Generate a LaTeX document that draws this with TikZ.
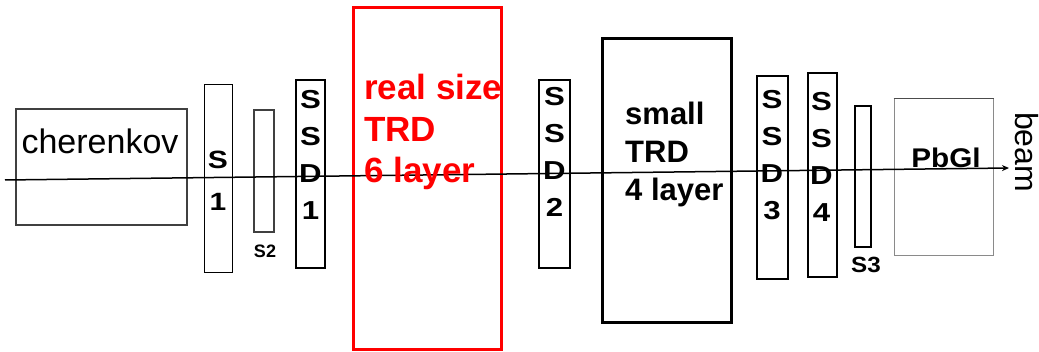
\documentclass[tikz,border=0pt]{standalone}
\usepackage{fontspec}
\setmainfont{Liberation Sans}
\newfontfamily\widesans{Liberation Sans}[FakeStretch=1.2]
\newfontfamily\midsans{Liberation Sans}[FakeStretch=1.1]
\usetikzlibrary{arrows.meta}
\definecolor{boxgray}{HTML}{404040}
\definecolor{pbgray}{HTML}{8A8A8A}
\definecolor{trdred}{HTML}{FF0000}
\begin{document}
\begin{tikzpicture}[x=1pt,y=-1pt,
  det/.style={draw=black, line width=1.4pt, inner sep=0pt, minimum width=#1},
  dh/.style={minimum height=#1},
  ssdtext/.style={inner sep=0pt, anchor=north, align=center, font=\widesans\bfseries\fontsize{26}{37}\selectfont},
  beamline/.style={line width=1.5pt, -{Stealth[length=7pt,width=6pt]}}
]
\useasboundingbox (0,0) rectangle (1039,352);
\fill[white] (0,0) rectangle (1039,352);

% detector boxes
\node[det=171pt, dh=116pt, draw=boxgray, line width=2.6pt] (cher) at (101.5,167) {};
\node[det=28pt, dh=188pt, line width=1pt] (s1) at (218,179) {};
\node[det=20pt, dh=122pt, draw=boxgray, line width=2.2pt] (s2) at (264,171) {};
\node[det=29pt, dh=188pt] (ssd1) at (310.5,174) {};
\node[det=148pt, dh=342pt, draw=trdred, line width=3pt] (rtrd) at (427,179) {};
\node[det=31pt, dh=188pt] (ssd2) at (554.5,174) {};
\node[det=129pt, dh=284pt, line width=3pt] (strd) at (666.5,181) {};
\node[det=31pt, dh=203pt] (ssd3) at (772.5,177.5) {};
\node[det=29pt, dh=204pt] (ssd4) at (822.5,175) {};
\node[det=16pt, dh=141pt] (s3) at (863,176.5) {};
\node[det=99pt, dh=157pt, draw=pbgray, line width=1pt] (pbgl) at (943.5,177.5) {};
\draw[line width=1pt, black!70] (pbgl.north west) -- (pbgl.north east);

% beam
\coordinate (bstart) at (5,180);
\coordinate (bend) at (1009,168);
\draw[beamline] (bstart) -- (bend);

% texts
\node[inner sep=0pt, anchor=base, font=\fontsize{34}{40}\selectfont] (chert) at (100,154) {cherenkov};
\node[ssdtext, font=\widesans\bfseries\fontsize{25}{42}\selectfont] (s1t) at (218,151) {S\\1};
\node[inner sep=0pt, font=\bfseries\fontsize{18}{20}\selectfont] (s2t) at (265,251) {S2};
\node[ssdtext] (ssd1t) at (310.5,90) {S\\S\\D\\1};
\node[inner sep=0pt, anchor=north west, align=left, text=trdred, font=\bfseries\fontsize{35}{41.5}\selectfont] (rtrdt) at (364,74) {real size\\TRD\\6 layer};
\node[ssdtext] (ssd2t) at (554.5,87) {S\\S\\D\\2};
\node[inner sep=0pt, anchor=north west, align=left, font=\bfseries\fontsize{31}{38}\selectfont] (strdt) at (625,102) {small\\TRD\\4 layer};
\node[ssdtext] (ssd3t) at (772,90) {S\\S\\D\\3};
\node[ssdtext] (ssd4t) at (821.5,92) {S\\S\\D\\4};
\node[inner sep=0pt, font=\midsans\bfseries\fontsize{22}{24}\selectfont] (s3t) at (866,265) {S3};
\node[inner sep=0pt, anchor=base, font=\midsans\bfseries\fontsize{27}{30}\selectfont] (pbglt) at (946,168) {PbGl};
\node[inner sep=0pt, anchor=base west, rotate=-90, font=\fontsize{32}{34}\selectfont] (beamt) at (1015,112) {beam};
\end{tikzpicture}
\end{document}
